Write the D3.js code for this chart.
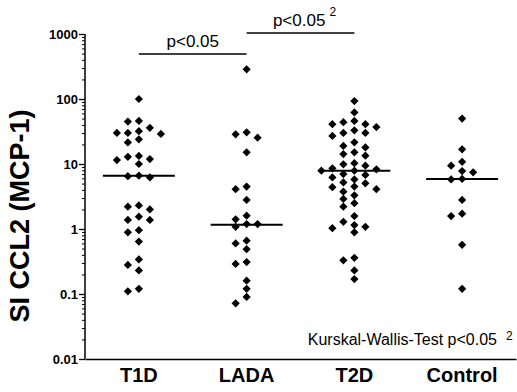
<!DOCTYPE html>
<html>
<head>
<meta charset="utf-8">
<script src="https://cdn.jsdelivr.net/npm/d3@7"></script>
<style>
  html, body { margin: 0; padding: 0; background: #fff; }
  svg { display: block; }
  text { font-family: "Liberation Sans", Arial, Helvetica, sans-serif; fill: #000; }
</style>
</head>
<body>
<svg id="chart" width="517" height="392"></svg>
<script>
// ---- data ----
const categories = ["T1D", "LADA", "T2D", "Control"];
const t1dValues = [100, 46, 45, 30, 32, 36, 29, 30, 24, 21.5, 13.3, 11.9, 10, 11.5, 12.9,
  6.5, 6.2, 6.6, 2.0, 2.2, 2.3, 1.38, 1.38, 1.55, 0.96, 0.89, 0.64, 0.28, 0.23, 0.34, 0.11, 0.12];
const ladaValues = [286, 28.6, 25.4, 30.7, 15.1, 4.1, 4.5, 2.8, 1.6, 1.19, 1.08, 1.19, 1.41,
  0.60, 0.49, 0.66, 0.29, 0.31, 0.16, 0.12, 0.09, 0.072];
const t2dValues = [93, 62, 41, 46, 37, 41, 44, 33, 30, 27, 30, 21.6, 18, 19, 14.2, 13.4, 15.1,
  10.3, 9.4, 9.9, 8.3, 7.9, 8.6, 7.9, 6.8, 7.0, 6.2, 5.05, 5.8, 5.2, 4.4, 4.1, 4.5, 3.75, 3.3,
  2.2, 2.5, 2.9, 1.58, 1.29, 1.08, 0.89, 1.03, 1.15, 0.36, 0.33, 0.23, 0.17];
const controlValues = [50, 16.8, 10.8, 9.4, 7.45, 7.8, 5.8, 5.9, 2.8, 1.58, 1.72, 0.57, 0.12];
const medians = [6.6, 1.16, 7.9, 5.9];
const yTickValues = [0.01, 0.1, 1, 10, 100, 1000];
const yTickLabels = ["0.01", "0.1", "1", "10", "100", "1000"];
const yTitle = "SI CCL2 (MCP-1)";
const comparisons = [
  { from: "T1D", to: "LADA", label: "p<0.05", sup: "" },
  { from: "LADA", to: "T2D", label: "p<0.05", sup: "2" }
];
const testNote = "Kurskal-Wallis-Test p<0.05";
const testNoteSup = "2";

const groups = [t1dValues, ladaValues, t2dValues, controlValues];

// ---- layout ----
const svg = d3.select("#chart");
const plotLeft = 85, plotRight = 516, plotTop = 34, plotBottom = 359;

const x = d3.scaleBand().domain(categories).range([plotLeft, plotRight]);
const xc = c => x(c) + x.bandwidth() / 2;
const y = d3.scaleLog().domain([0.01, 1000]).range([plotBottom, plotTop]);

// ---- y axis (major + minor ticks) ----
const minorTicks = [];
for (let d = -2; d < 3; d++) for (let k = 2; k <= 9; k++) minorTicks.push(k * Math.pow(10, d));

const yMinor = svg.append("g").attr("transform", `translate(${plotLeft},0)`)
  .call(d3.axisLeft(y).tickValues(minorTicks).tickSize(3).tickFormat(""));
yMinor.select(".domain").remove();
yMinor.selectAll("line").attr("stroke", "#000").attr("stroke-width", 1);

const yAxis = svg.append("g").attr("transform", `translate(${plotLeft},0)`)
  .call(d3.axisLeft(y).tickValues(yTickValues).tickSize(6).tickPadding(1)
    .tickFormat((d, i) => yTickLabels[i]));
yAxis.select(".domain").attr("stroke", "#000").attr("stroke-width", 1.5).attr("d", `M0,${plotTop}V${plotBottom}`);
yAxis.selectAll("line").attr("stroke", "#000").attr("stroke-width", 1.3);
yAxis.selectAll("text").style("font-size", "13px").style("font-weight", "bold")
  .style("font-family", "'Liberation Sans', Arial, sans-serif").attr("fill", "#000");

// ---- x axis ----
const xAxis = svg.append("g").attr("transform", `translate(0,${plotBottom})`)
  .call(d3.axisBottom(x).tickSize(0).tickPadding(9));
xAxis.select(".domain").attr("stroke", "#000").attr("stroke-width", 1.5);
xAxis.selectAll("text").style("font-size", "20px").style("font-weight", "bold")
  .style("font-family", "'Liberation Sans', Arial, sans-serif").attr("fill", "#000");

// ---- y title ----
svg.append("text")
  .attr("transform", `translate(29,216) rotate(-90)`)
  .attr("text-anchor", "middle")
  .style("font-size", "27px").style("font-weight", "bold")
  .text(yTitle);

// ---- points, dodged into columns ----
const step = 11, minGap = 7;
const diamond = d3.symbol().type(d3.symbolSquare).size(34);
groups.forEach((vals, gi) => {
  const cat = categories[gi];
  const pts = vals.map(v => ({ v, py: y(v) })).sort((a, b) => a.py - b.py);
  const placed = [];
  const order = [0, -1, 1, -2, 2, -3, 3, -4, 4];
  pts.forEach(p => {
    for (const o of order) {
      const clash = placed.some(q => q.o === o && Math.abs(q.py - p.py) < minGap);
      if (!clash) { p.o = o; break; }
    }
    placed.push(p);
  });
  svg.append("g").selectAll("path").data(pts).join("path")
    .attr("d", diamond)
    .attr("transform", d => `translate(${xc(cat) + d.o * step},${d.py}) rotate(45)`)
    .attr("fill", "#000");
});

// ---- median lines ----
svg.append("g").selectAll("line").data(categories).join("line")
  .attr("x1", c => xc(c) - 36).attr("x2", c => xc(c) + 36)
  .attr("y1", (c, i) => y(medians[i])).attr("y2", (c, i) => y(medians[i]))
  .attr("stroke", "#000").attr("stroke-width", 2);

// ---- significance brackets ----
const bracketY = [54, 33];
comparisons.forEach((cmp, i) => {
  const x1 = xc(cmp.from), x2 = xc(cmp.to), by = bracketY[i];
  svg.append("line").attr("x1", x1).attr("x2", x2).attr("y1", by).attr("y2", by)
    .attr("stroke", "#000").attr("stroke-width", 1.5);
  const t = svg.append("text").attr("x", (x1 + x2) / 2 + (cmp.sup ? 4 : 0)).attr("y", by - 7)
    .attr("text-anchor", "middle").style("font-size", "17px").text(cmp.label);
  if (cmp.sup) {
    t.append("tspan").attr("dx", 4).attr("dy", -10).style("font-size", "12px").text(cmp.sup);
  }
});

// ---- test note ----
svg.append("text").attr("x", 497).attr("y", 345).attr("text-anchor", "end")
  .style("font-size", "16px").text(testNote);
svg.append("text").attr("x", 506).attr("y", 340)
  .style("font-size", "12px").text(testNoteSup);
</script>
</body>
</html>
